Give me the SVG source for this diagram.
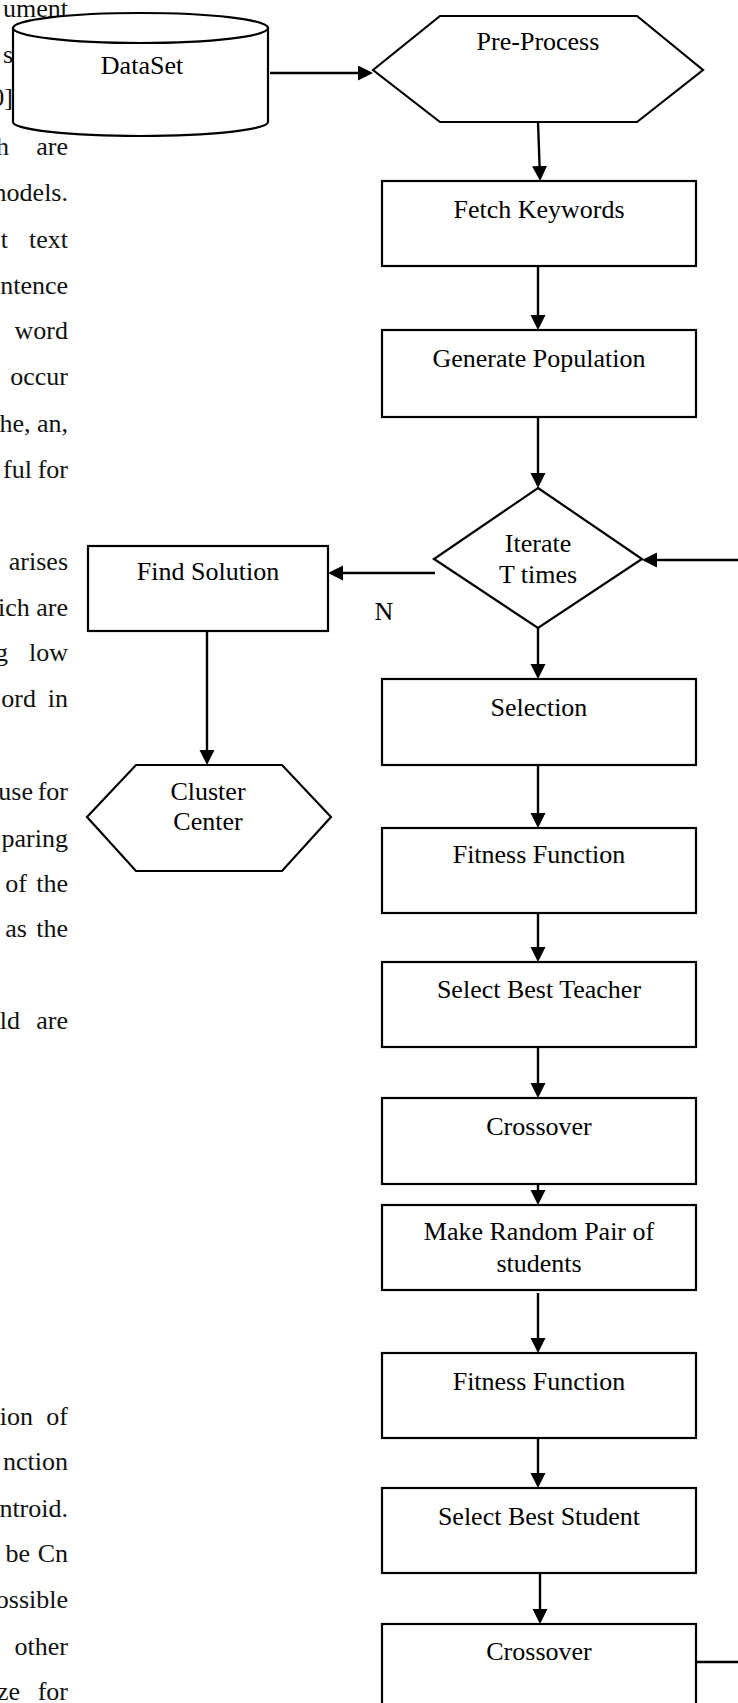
<svg xmlns="http://www.w3.org/2000/svg" width="738" height="1703" viewBox="0 0 738 1703">
<style>
.bg{font-family:"Liberation Serif","Times New Roman",serif;font-size:26px;fill:#111;text-anchor:end}
.lbl{font-family:"Liberation Serif","Times New Roman",serif;font-size:26px;fill:#000;text-anchor:middle}
.shape{fill:#fff;stroke:#000;stroke-width:2.2}
.conn line{stroke:#000;stroke-width:2.4;fill:none}
.arr{marker-end:url(#ah)}
</style>
<defs>
<marker id="ah" markerUnits="userSpaceOnUse" markerWidth="16" markerHeight="16" refX="12" refY="7.5" orient="auto">
<path d="M0,0 L15,7.5 L0,15 Z" fill="#000"/>
</marker>
</defs>
<rect x="0" y="0" width="738" height="1703" fill="#fff"/>
<g id="background-text">
<text class="bg" x="68" y="17">ument</text>
<text class="bg" x="13" y="63">s</text>
<text class="bg" x="13" y="106">0]</text>
<text class="bg" x="9" y="155">h</text><text class="bg" x="68" y="155">are</text>
<text class="bg" x="68" y="201">nodels.</text>
<text class="bg" x="8" y="248">t</text><text class="bg" x="68" y="248">text</text>
<text class="bg" x="68" y="294">ntence</text>
<text class="bg" x="68" y="339">word</text>
<text class="bg" x="68" y="385">occur</text>
<text class="bg" x="68" y="432">he, an,</text>
<text class="bg" x="32" y="478">ful</text><text class="bg" x="68" y="478">for</text>
<text class="bg" x="68" y="570">arises</text>
<text class="bg" x="68" y="616">ich are</text>
<text class="bg" x="8" y="661">g</text><text class="bg" x="68" y="661">low</text>
<text class="bg" x="36" y="707">ord</text><text class="bg" x="68" y="707">in</text>
<text class="bg" x="33" y="800">use</text><text class="bg" x="68" y="800">for</text>
<text class="bg" x="68" y="847">paring</text>
<text class="bg" x="27" y="892">of</text><text class="bg" x="68" y="892">the</text>
<text class="bg" x="27" y="937">as</text><text class="bg" x="68" y="937">the</text>
<text class="bg" x="20" y="1029">old</text><text class="bg" x="68" y="1029">are</text>
<text class="bg" x="33" y="1425">ion</text><text class="bg" x="68" y="1425">of</text>
<text class="bg" x="68" y="1470">nction</text>
<text class="bg" x="68" y="1517">ntroid.</text>
<text class="bg" x="30" y="1562">be</text><text class="bg" x="68" y="1562">Cn</text>
<text class="bg" x="68" y="1608">ossible</text>
<text class="bg" x="68" y="1655">other</text>
<text class="bg" x="20" y="1700">ze</text><text class="bg" x="68" y="1700">for</text>
</g>
<g class="conn" id="connectors">
<line class="arr" x1="270" y1="73" x2="370" y2="73"/>
<line class="arr" x1="538" y1="122" x2="540" y2="178"/>
<line class="arr" x1="538" y1="266" x2="538" y2="327"/>
<line class="arr" x1="538" y1="417" x2="538" y2="485"/>
<line class="arr" x1="738" y1="560" x2="645" y2="560"/>
<line class="arr" x1="435" y1="573" x2="331" y2="573"/>
<line class="arr" x1="207" y1="631" x2="207" y2="762"/>
<line class="arr" x1="538" y1="628" x2="538" y2="676"/>
<line class="arr" x1="538" y1="766" x2="538" y2="825"/>
<line class="arr" x1="538" y1="913" x2="538" y2="959"/>
<line class="arr" x1="538" y1="1047" x2="538" y2="1095"/>
<line class="arr" x1="538" y1="1180" x2="538" y2="1202"/>
<line class="arr" x1="538" y1="1293" x2="538" y2="1350"/>
<line class="arr" x1="538" y1="1438" x2="538" y2="1485"/>
<line class="arr" x1="540" y1="1570" x2="540" y2="1621"/>
<line x1="696" y1="1662" x2="738" y2="1662"/>
</g>
<g id="node-dataset">
<path class="shape" d="M13,28 L13,122 A127.5,14 0 0 0 268,122 L268,28 Z"/>
<ellipse class="shape" cx="140.5" cy="28" rx="127.5" ry="15"/>
<text class="lbl" x="142" y="74">DataSet</text>
</g>
<g id="node-preprocess">
<polygon class="shape" points="373,70 440,16 637,16 703,70 637,122 440,122"/>
<text class="lbl" x="538" y="50">Pre-Process</text>
</g>
<g id="node-fetch">
<rect class="shape" x="382" y="181" width="314" height="85"/>
<text class="lbl" x="539" y="218">Fetch Keywords</text>
</g>
<g id="node-generate">
<rect class="shape" x="382" y="330" width="314" height="87"/>
<text class="lbl" x="539" y="367">Generate Population</text>
</g>
<g id="node-iterate">
<polygon class="shape" points="538,488 642,559 538,628 434,559"/>
<text class="lbl" x="538" y="552">Iterate</text>
<text class="lbl" x="538" y="583">T times</text>
</g>
<g id="label-n">
<text class="lbl" x="384" y="620">N</text>
</g>
<g id="node-findsolution">
<rect class="shape" x="88" y="546" width="240" height="85"/>
<text class="lbl" x="208" y="580">Find Solution</text>
</g>
<g id="node-cluster">
<polygon class="shape" points="87,817 136,765 282,765 331,817 282,871 136,871"/>
<text class="lbl" x="208" y="800">Cluster</text>
<text class="lbl" x="208" y="830">Center</text>
</g>
<g id="node-selection">
<rect class="shape" x="382" y="679" width="314" height="86"/>
<text class="lbl" x="539" y="716">Selection</text>
</g>
<g id="node-fitness1">
<rect class="shape" x="382" y="828" width="314" height="85"/>
<text class="lbl" x="539" y="863">Fitness Function</text>
</g>
<g id="node-teacher">
<rect class="shape" x="382" y="962" width="314" height="85"/>
<text class="lbl" x="539" y="998">Select Best Teacher</text>
</g>
<g id="node-crossover1">
<rect class="shape" x="382" y="1098" width="314" height="86"/>
<text class="lbl" x="539" y="1135">Crossover</text>
</g>
<g id="node-randompair">
<rect class="shape" x="382" y="1205" width="314" height="85"/>
<text class="lbl" x="539" y="1240">Make Random Pair of</text>
<text class="lbl" x="539" y="1272">students</text>
</g>
<g id="node-fitness2">
<rect class="shape" x="382" y="1353" width="314" height="85"/>
<text class="lbl" x="539" y="1390">Fitness Function</text>
</g>
<g id="node-student">
<rect class="shape" x="382" y="1488" width="314" height="85"/>
<text class="lbl" x="539" y="1525">Select Best Student</text>
</g>
<g id="node-crossover2">
<rect class="shape" x="382" y="1624" width="314" height="90"/>
<text class="lbl" x="539" y="1660">Crossover</text>
</g>
</svg>
